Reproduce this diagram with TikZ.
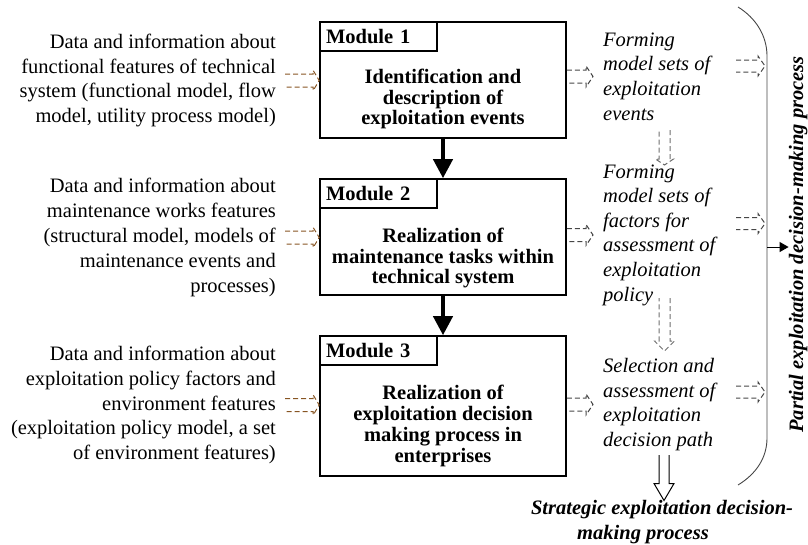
\documentclass[tikz,border=0pt]{standalone}
\usepackage{fontspec}
\setmainfont{Liberation Serif}
\usetikzlibrary{calc,arrows.meta}
\definecolor{brn}{RGB}{135,85,35}
\definecolor{dgray}{RGB}{70,70,70}
\definecolor{lgray}{RGB}{110,110,110}
\begin{document}
\begin{tikzpicture}[x=1pt,y=-1pt,
  lefttext/.style={anchor=east,align=right,inner sep=0pt,font=\fontsize{20.5}{24.8}\selectfont},
  ittext/.style={anchor=west,align=left,inner sep=0pt,font=\fontsize{20.5}{24.6}\selectfont\itshape},
  modbox/.style={draw,line width=1.6pt,minimum width=246pt,inner sep=0pt},
  modtab/.style={draw,line width=1.6pt,minimum width=117pt,minimum height=29pt,anchor=north west,inner sep=0pt,
     font=\fontsize{20.5}{24}\selectfont\bfseries,text width=105pt,align=left},
  modtext/.style={align=center,inner sep=0pt,font=\fontsize{20.5}{20.7}\selectfont\bfseries},
  thickarrow/.style={line width=4pt,-{Triangle[length=19pt,width=19pt]}},
  blockarrow/.style n args={3}{to path={
    ($(\tikztostart)!#1!90:(\tikztotarget)$) --
    ($(\tikztotarget)!#3!(\tikztostart)!#1!-90:(\tikztostart)$) --
    ($(\tikztotarget)!#3!(\tikztostart)!#2!-90:(\tikztostart)$) --
    (\tikztotarget) --
    ($(\tikztotarget)!#3!(\tikztostart)!#2!90:(\tikztostart)$) --
    ($(\tikztotarget)!#3!(\tikztostart)!#1!90:(\tikztostart)$) --
    ($(\tikztostart)!#1!-90:(\tikztotarget)$)}},
  dasharrow/.style={line width=1pt,dash pattern=on 5pt off 3pt,line join=miter},
  bitext/.style={inner sep=0pt,font=\fontsize{20.5}{24}\selectfont\bfseries\itshape}
]
\useasboundingbox (0,0) rectangle (808,544);

% left texts
\node[lefttext] (L1) at (276,80.5) {Data and information about\\functional features of technical\\system (functional model, flow\\model, utility process model)};
\node[lefttext] (L2) at (276,237.5) {Data and information about\\maintenance works features\\(structural model, models of\\maintenance events and\\processes)};
\node[lefttext] (L3) at (276,405) {Data and information about\\exploitation policy factors and\\environment features\\(exploitation policy model, a set\\of environment features)};

% module boxes
\node[modbox,minimum height=116pt] (m1) at (443,80) {};
\node[modbox,minimum height=116pt] (m2) at (443,237) {};
\node[modbox,minimum height=140pt] (m3) at (443,406) {};
\node[modtab] (tab1) at (m1.north west) {Module 1};
\node[modtab] (tab2) at (m2.north west) {Module 2};
\node[modtab] (tab3) at (m3.north west) {Module 3};
\node[modtext] (t1) at (443,99) {Identification and\\description of\\exploitation events};
\node[modtext] (t2) at (443,258) {Realization of\\maintenance tasks within\\technical system};
\node[modtext] (t3) at (443,426) {Realization of\\exploitation decision\\making process in\\enterprises};

\draw[thickarrow] (m1.south) -- (m2.north);
\draw[thickarrow] (m2.south) -- (m3.north);

% italic texts
\node[ittext] (A) at (603,76.5) {Forming\\model sets of\\exploitation\\events};
\node[ittext] (B) at (603,235) {Forming\\model sets of\\factors for\\assessment of\\exploitation\\policy};
\node[ittext] (C) at (603,404.5) {Selection and\\assessment of\\exploitation\\decision path};

% brown input arrows
\coordinate (b1s) at ($(L1.east)+(9,0)$);
\coordinate (b2s) at ($(L2.east)+(9,0)$);
\coordinate (b3s) at ($(L3.east)+(9,0)$);
\coordinate (b1e) at (m1.west |- L1.east);
\coordinate (b2e) at (m2.west |- L2.east);
\coordinate (b3e) at (m3.west |- L3.east);
\draw[dasharrow,brn,blockarrow={6.5pt}{10pt}{6pt}] (b1s) to (b1e);
\draw[dasharrow,brn,blockarrow={6.5pt}{10pt}{6pt}] (b2s) to (b2e);
\draw[dasharrow,brn,blockarrow={6.5pt}{10pt}{6pt}] (b3s) to (b3e);

% module -> italic text arrows
\coordinate (g1s) at (m1.east |- A.west);
\coordinate (g2s) at (m2.east |- B.west);
\coordinate (g3s) at (m3.east |- C.west);
\coordinate (g1e) at ($(A.west)+(-10,0)$);
\coordinate (g2e) at ($(B.west)+(-10,0)$);
\coordinate (g3e) at ($(C.west)+(-10,0)$);
\draw[dasharrow,dgray,blockarrow={6.5pt}{10.5pt}{7pt}] (g1s) to (g1e);
\draw[dasharrow,dgray,blockarrow={6.5pt}{10.5pt}{7pt}] (g2s) to (g2e);
\draw[dasharrow,dgray,blockarrow={6.5pt}{10.5pt}{7pt}] (g3s) to (g3e);

% vertical arrows between italic texts
\coordinate (v1s) at (664.5,130);
\coordinate (v1e) at (664.5,165);
\coordinate (v2s) at (664.5,298);
\coordinate (v2e) at (664.5,351);
\draw[dasharrow,lgray,blockarrow={5.5pt}{9pt}{6pt}] (v1s) to (v1e);
\draw[dasharrow,lgray,blockarrow={5.5pt}{10pt}{10pt}] (v2s) to (v2e);

% bracket
\draw[dgray,line width=0.9pt] (738,7) .. controls (756,18) and (767,36) .. (767,56)
   -- (767,438) .. controls (767,458) and (756,474) .. (738,485);

% italic -> bracket arrows
\coordinate (r1s) at (736,66);
\coordinate (r1e) at (765,66);
\coordinate (r2s) at (736,223.5);
\coordinate (r2e) at (765,223.5);
\coordinate (r3s) at (736,392);
\coordinate (r3e) at (765,392);
\draw[dasharrow,dgray,blockarrow={6pt}{10pt}{7pt}] (r1s) to (r1e);
\draw[dasharrow,dgray,blockarrow={6pt}{10pt}{7pt}] (r2s) to (r2e);
\draw[dasharrow,dgray,blockarrow={6pt}{10pt}{7pt}] (r3s) to (r3e);

% partial text and arrow
\node[bitext,rotate=90,anchor=base] (P) at (803,244.5) {Partial exploitation decision-making process};
\coordinate (brk) at (767,247);
\draw[dgray,line width=1pt,-{Triangle[length=9pt,width=10pt]},black] (brk) -- (brk -| P.north);

% strategic
\node[bitext] (S1) at (662,510) {Strategic exploitation decision-};
\node[bitext] (S2) at (643,535) {making process};
\coordinate (sa) at (664,455);
\draw[line width=1pt,blockarrow={5pt}{10pt}{17pt}] (sa) to (S1.north -| sa);
\end{tikzpicture}
\end{document}
